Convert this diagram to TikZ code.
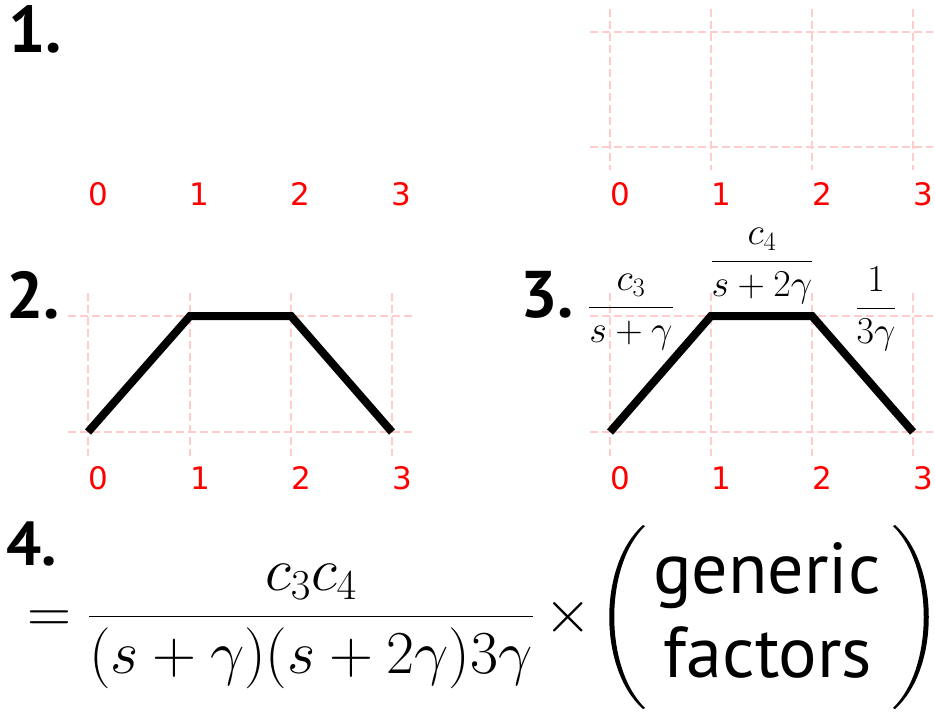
\RequirePackage{fix-cm}
\documentclass[tikz,border=0pt]{standalone}
\usepackage{fontspec}
\usepackage{amsmath}
\newfontfamily\headfont{PT Sans}
\newfontfamily\tickfont{DejaVu Sans}
\definecolor{gridpink}{RGB}{255,204,204}
\tikzset{
  gridline/.style={gridpink, line width=2pt, dash pattern=on 8pt off 4pt},
  pathline/.style={line width=8pt},
  ticklabel/.style={red, anchor=base west, inner sep=0pt, font=\tickfont\fontsize{31}{31}\selectfont},
  stepnum/.style={anchor=base west, inner sep=0pt, font=\headfont\bfseries\fontsize{66}{66}\selectfont},
  ratefrac/.style={anchor=base, inner sep=0pt, font=\fontsize{38}{38}\selectfont},
  wordline/.style={anchor=base, inner sep=0pt, font=\headfont\fontsize{72}{72}\selectfont},
}

\begin{document}
\begin{tikzpicture}[x=1pt, y=-1pt]
\useasboundingbox (0,0) rectangle (935,712);

% 1. empty axis and empty grid
\node[stepnum] (one) at (8,52) {1.};
\node[ticklabel] (a0) at (88,205) {0};
\node[ticklabel] (a1) at (189,205) {1};
\node[ticklabel] (a2) at (290,205) {2};
\node[ticklabel] (a3) at (391,205) {3};
\draw[gridline] (610,9) -- (610,170) (711,9) -- (711,170) (812,9) -- (812,170) (913,9) -- (913,170);
\draw[gridline] (590,32) -- (933,32) (590,147) -- (933,147);
\node[ticklabel] (b0) at (610,205) {0};
\node[ticklabel] (b1) at (711,205) {1};
\node[ticklabel] (b2) at (812,205) {2};
\node[ticklabel] (b3) at (913,205) {3};

% 2. the path
\node[stepnum] (two) at (6,318) {2.};
\draw[gridline] (88,293) -- (88,456) (190,293) -- (190,456) (291,293) -- (291,456) (392,293) -- (392,456);
\draw[gridline] (68,316) -- (412,316) (68,432) -- (412,432);
\draw[pathline] (88,432) -- (190,316) -- (291,316) -- (392,432);
\node[ticklabel] (c0) at (88,489) {0};
\node[ticklabel] (c1) at (190,489) {1};
\node[ticklabel] (c2) at (291,489) {2};
\node[ticklabel] (c3) at (392,489) {3};

% 3. the path with its factors
\node[stepnum] (three) at (520,317) {3.};
\draw[gridline] (610,293) -- (610,456) (711,293) -- (711,456) (812,293) -- (812,456) (913,293) -- (913,456);
\draw[gridline] (590,316) -- (933,316) (590,432) -- (933,432);
\draw[pathline] (610,432) -- (711,316) -- (812,316) -- (913,432);
\node[ticklabel] (d0) at (610,489) {0};
\node[ticklabel] (d1) at (711,489) {1};
\node[ticklabel] (d2) at (812,489) {2};
\node[ticklabel] (d3) at (913,489) {3};
\node[ratefrac] (up) at (631,316.5) {$\displaystyle\frac{c_3}{s+\gamma}$};
\node[ratefrac] (flat) at (762,270.5) {$\displaystyle\frac{c_4}{s+2\gamma}$};
\node[ratefrac] (down) at (876,317.5) {$\displaystyle\frac{1}{3\gamma}$};

% 4. the product
\node[stepnum, font=\headfont\bfseries\fontsize{62}{62}\selectfont] (four) at (6,565) {4.};
\node[anchor=base west, inner sep=0pt, font=\fontsize{61}{61}\selectfont] (prod) at (27,632)
  {$\displaystyle =\frac{c_3c_4}{(s+\gamma)(s+2\gamma)3\gamma}\,\times$};
\fill (643,525) .. controls (598,565) and (598,669) .. (643,709) -- (645,708)
  .. controls (604,668) and (604,566) .. (645,526) -- cycle;
\fill (895,525) .. controls (940,565) and (940,669) .. (895,709) -- (893,708)
  .. controls (934,668) and (934,566) .. (893,526) -- cycle;
\node[wordline] (gen) at (767,593) {generic};
\node[wordline] (fac) at (768,677) {factors};
\end{tikzpicture}
\end{document}
